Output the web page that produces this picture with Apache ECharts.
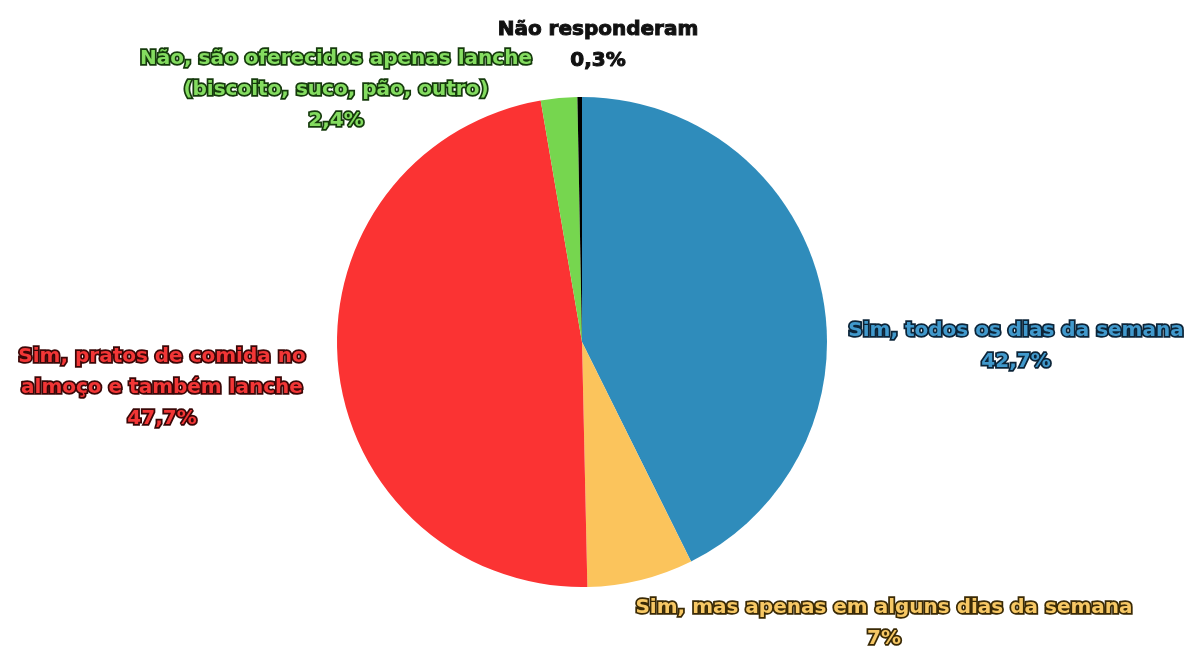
<!DOCTYPE html>
<html>
<head>
<meta charset="utf-8">
<script src="https://cdn.jsdelivr.net/npm/echarts@6/dist/echarts.min.js"></script>
<style>html,body{margin:0;padding:0;background:#fff}#c{width:1196px;height:648px}</style>
</head>
<body>
<div id="c"></div>
<script>
const categories = [
  "Sim, todos os dias da semana",
  "Sim, mas apenas em alguns dias da semana",
  "Sim, pratos de comida no\nalmoço e também lanche",
  "Não, são oferecidos apenas lanche\n(biscoito, suco, pão, outro)",
  "Não responderam"
];
const values = [42.7, 7, 47.7, 2.4, 0.3];

const sliceColors = ["#2f8cbb", "#fbc45c", "#fb3333", "#76d64f", "#000000"];
const textColors = ["#4199cc", "#f7c865", "#f23636", "#84dc60", "#111111"];
const strokeColors = ["#0c2438", "#3a2a06", "#3a0707", "#153a0c", "#111111"];
const strokeWidths = [3.5, 3.5, 3.5, 3.5, 1];
const labelPos = [[1016, 346], [884, 623], [162, 388], [336, 90], [598, 45]];

const fmt = v => (Number.isInteger(v) ? String(v) : String(v).replace('.', ',')) + '%';

const chart = echarts.init(document.getElementById('c'));
chart.setOption({
  animation: false,
  series: [{
    type: 'pie',
    center: [582, 342],
    radius: 245,
    startAngle: 90,
    clockwise: true,
    avoidLabelOverlap: false,
    labelLine: { show: false },
    itemStyle: { borderWidth: 0 },
    data: categories.map((n, i) => ({
      name: n,
      value: values[i],
      itemStyle: { color: sliceColors[i] },
      label: {
        color: textColors[i],
        textBorderColor: strokeColors[i],
        textBorderWidth: strokeWidths[i]
      }
    })),
    label: {
      show: true,
      position: 'outside',
      fontFamily: 'DejaVu Sans',
      fontWeight: 'bold',
      fontSize: 20,
      lineHeight: 31,
      align: 'center',
      formatter: p => p.name + '\n' + fmt(p.value)
    },
    labelLayout: p => ({
      x: labelPos[p.dataIndex][0],
      y: labelPos[p.dataIndex][1],
      align: 'center',
      verticalAlign: 'middle'
    })
  }]
});
</script>
</body>
</html>
